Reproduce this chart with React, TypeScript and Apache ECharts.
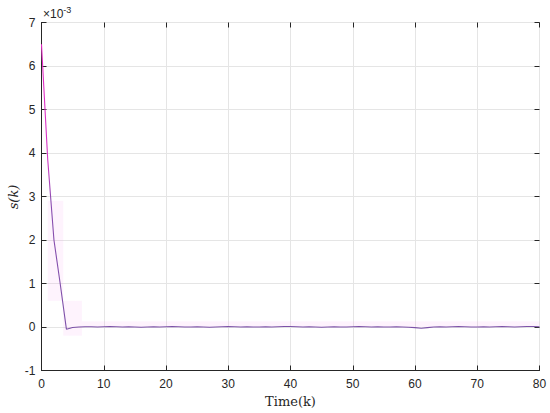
import React, { useEffect, useRef } from "react";
import * as echarts from "echarts";

// Time steps k = 0..80
const steps: number[] = Array.from({ length: 81 }, (_, i) => i);

// s(k) in units of 1e-3
const sValues: number[] = [
  6.5, 3.85, 2.0, 1.0, -0.05, -0.01, 0.0, 0.005, 0.005, 0.0,
  0.005, 0.01, 0.005, 0.0, 0.005, 0.0, -0.005, 0.0, 0.005, 0.0,
  0.005, 0.01, 0.005, 0.0, 0.0, 0.005, 0.0, -0.005, 0.0, 0.005,
  0.01, 0.005, 0.0, 0.005, 0.0, 0.0, 0.005, 0.0, 0.005, 0.01,
  0.01, 0.005, 0.0, 0.005, 0.0, -0.005, 0.0, 0.005, 0.0, 0.0,
  0.005, 0.01, 0.005, 0.0, 0.005, 0.0, 0.0, 0.005, 0.0, -0.005,
  -0.015, -0.03, -0.015, 0.0, 0.005, 0.0, 0.005, 0.01, 0.005, 0.0,
  0.0, 0.005, 0.0, 0.005, 0.01, 0.005, 0.0, 0.005, 0.01, 0.01,
  0.005,
];

// shaded envelope (lower / upper), from k = 1
const bandLower: number[] = [
  0.6, 0.6, 0.6, -0.2, -0.2, -0.2, 0.0, 0.0, 0.0, 0.0,
  0.0, 0.0, 0.0, 0.0, 0.0, 0.0, 0.0, 0.0, 0.0, 0.0,
  0.0, 0.0, 0.0, 0.0, 0.0, 0.0, 0.0, 0.0, 0.0, 0.0,
  0.0, 0.0, 0.0, 0.0, 0.0, 0.0, 0.0, 0.0, 0.0, 0.0,
  0.0, 0.0, 0.0, 0.0, 0.0, 0.0, 0.0, 0.0, 0.0, 0.0,
  0.0, 0.0, 0.0, 0.0, 0.0, 0.0, 0.0, 0.0, 0.0, 0.0,
  0.0, 0.0, 0.0, 0.0, 0.0, 0.0, 0.0, 0.0, 0.0, 0.0,
  0.0, 0.0, 0.0, 0.0, 0.0, 0.0, 0.0, 0.0, 0.0, 0.0,
];
const bandUpper: number[] = [
  2.9, 2.9, 2.9, 0.6, 0.6, 0.6, 0.13, 0.13, 0.13, 0.13,
  0.13, 0.13, 0.13, 0.13, 0.13, 0.13, 0.13, 0.13, 0.13, 0.13,
  0.13, 0.13, 0.13, 0.13, 0.13, 0.13, 0.13, 0.13, 0.13, 0.13,
  0.13, 0.13, 0.13, 0.13, 0.13, 0.13, 0.13, 0.13, 0.13, 0.13,
  0.13, 0.13, 0.13, 0.13, 0.13, 0.13, 0.13, 0.13, 0.13, 0.13,
  0.13, 0.13, 0.13, 0.13, 0.13, 0.13, 0.13, 0.13, 0.13, 0.13,
  0.13, 0.13, 0.13, 0.13, 0.13, 0.13, 0.13, 0.13, 0.13, 0.13,
  0.13, 0.13, 0.13, 0.13, 0.13, 0.13, 0.13, 0.13, 0.13, 0.13,
];

const X_MIN = 0, X_MAX = 80, X_INT = 10;
const Y_MIN = -1, Y_MAX = 7, Y_INT = 1;

const TXT = "#262626";
const FONT = "'Liberation Sans', Arial, sans-serif";
const SERIF = "'DejaVu Serif', 'Liberation Serif', serif";

export default function App() {
  const ref = useRef<HTMLDivElement>(null);

  useEffect(() => {
    if (!ref.current) return;
    const chart = echarts.init(ref.current, undefined, { renderer: "svg" });

    const bandStart = 1;
    const bandData = bandLower.map((v, i) => [steps[i + bandStart], v, bandUpper[i]]);
    const lineData = sValues.map((v, i) => [steps[i], v]);

    const hiddenAxisCommon = {
      axisLabel: { show: false },
      splitLine: { show: false },
      axisLine: { show: false, onZero: false },
      axisTick: { show: true, inside: true, length: 5, lineStyle: { color: TXT } },
    };

    chart.setOption({
      animation: false,
      backgroundColor: "#ffffff",
      grid: {
        left: 41.5,
        right: 10.5,
        top: 22.5,
        bottom: 42.5,
        show: true,
        borderColor: TXT,
        borderWidth: 1,
        containLabel: false,
        outerBoundsMode: "none",
      },
      xAxis: [
        {
          type: "value",
          min: X_MIN,
          max: X_MAX,
          interval: X_INT,
          name: "Time(k)",
          nameLocation: "middle",
          nameGap: 24,
          nameTextStyle: { fontFamily: SERIF, fontSize: 13, color: TXT },
          axisLine: { show: true, onZero: false, lineStyle: { color: TXT } },
          axisTick: { show: true, inside: true, length: 5, lineStyle: { color: TXT } },
          axisLabel: { color: TXT, fontFamily: FONT, fontSize: 12, margin: 7 },
          splitLine: { show: true, lineStyle: { color: "#e5e5e5", width: 1 } },
        },
        {
          type: "value",
          position: "top",
          min: X_MIN,
          max: X_MAX,
          interval: X_INT,
          ...hiddenAxisCommon,
        },
      ],
      yAxis: [
        {
          type: "value",
          min: Y_MIN,
          max: Y_MAX,
          interval: Y_INT,
          position: "left",
          axisLine: { show: true, onZero: false, lineStyle: { color: TXT } },
          axisTick: { show: true, inside: true, length: 5, lineStyle: { color: TXT } },
          axisLabel: { color: TXT, fontFamily: FONT, fontSize: 12, margin: 6 },
          splitLine: { show: true, lineStyle: { color: "#e5e5e5", width: 1 } },
        },
        {
          type: "value",
          position: "right",
          min: Y_MIN,
          max: Y_MAX,
          interval: Y_INT,
          ...hiddenAxisCommon,
        },
      ],
      graphic: [
        {
          type: "text",
          left: 43,
          top: 5,
          style: {
            text: "×10{sup|-3}",
            fill: TXT,
            font: `12px ${FONT}`,
            rich: { sup: { fontSize: 9, fontFamily: FONT, fill: TXT, verticalAlign: "top", padding: [0, 0, 8, 0] } },
          },
        },
        {
          type: "text",
          x: 13,
          y: 197,
          rotation: Math.PI / 2,
          style: {
            text: "s(k)",
            fill: TXT,
            font: `italic 13px ${SERIF}`,
            align: "center",
            verticalAlign: "middle",
          },
        },
      ],
      series: [
        {
          type: "custom",
          data: bandData,
          silent: true,
          z: 1,
          renderItem: (params: any, api: any) => {
            const k = api.value(0);
            const lo = api.value(1);
            const hi = api.value(2);
            const x0 = Math.max(k - 0.5, 1);
            const x1 = Math.min(k + 0.5, X_MAX);
            const p0 = api.coord([x0, hi]);
            const p1 = api.coord([x1, lo]);
            return {
              type: "rect",
              shape: { x: p0[0], y: p0[1], width: p1[0] - p0[0], height: p1[1] - p0[1] },
              style: { fill: "rgba(250, 160, 235, 0.12)" },
            };
          },
        },
        {
          type: "line",
          data: lineData,
          symbol: "none",
          lineStyle: {
            width: 1.1,
            color: new echarts.graphic.LinearGradient(0, 0, 0, 1, [
              { offset: 0, color: "#e82cc8" },
              { offset: 0.4, color: "#d434c4" },
              { offset: 0.55, color: "#8a4cb0" },
              { offset: 1, color: "#7c52a8" },
            ]),
          },
          z: 3,
        },
      ],
    });

    return () => chart.dispose();
  }, []);

  return (
    <div
      ref={ref}
      style={{ position: "absolute", left: 0, top: 0, width: 550, height: 413 }}
    />
  );
}
